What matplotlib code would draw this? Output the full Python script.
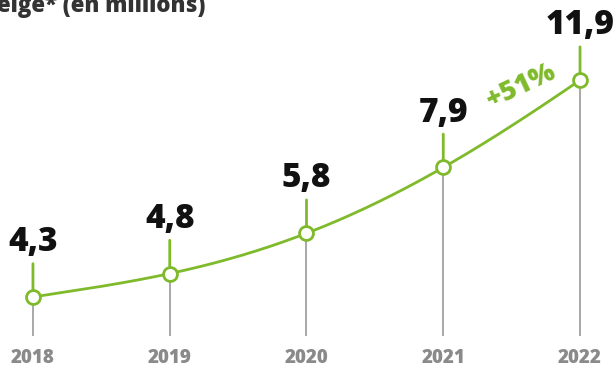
import numpy as np
import matplotlib.pyplot as plt

plt.rcParams['font.family'] = ['Open Sans', 'DejaVu Sans']

# data
years = [2018, 2019, 2020, 2021, 2022]
values = [4.3, 4.8, 5.8, 7.9, 11.9]
labels = ['4,3', '4,8', '5,8', '7,9', '11,9']
title = 'eige* (en millions)'
growth = '+51%'

green = '#7fba2b'
grey_line = '#9a9a9a'
grey_text = '#8a8a8a'

fig = plt.figure(figsize=(6.16, 3.69), dpi=100)
ax = fig.add_axes([0, 0, 1, 1])
ax.set_yscale('log')
ax.set_xlim(2017.759, 2022.263)
ax.set_ylim(3.067, 17.34)
ax.axis('off')

# grey drop lines
ax.vlines(years, 3.58, values, color=grey_line, lw=1.2, zorder=1)

# smooth curve through the points (in log space)
coef = np.polyfit(years, np.log(values), 4)
xs = np.linspace(years[0], years[-1], 200)
ax.plot(xs, np.exp(np.polyval(coef, xs)), color=green, lw=2.0, zorder=2)

# green stems and value labels
for x, v, lab in zip(years, values, labels):
    ax.annotate('', xy=(x, v), xytext=(0, 24), textcoords='offset points',
                arrowprops=dict(arrowstyle='-', color=green, lw=2.0,
                                shrinkA=0, shrinkB=0), zorder=2)
    ax.annotate(lab, xy=(x, v), xytext=(0, 33), textcoords='offset points',
                ha='center', va='baseline', fontsize=24, fontweight=800,
                color='#111111')

ax.plot(years, values, 'o', ms=10, mfc='white', mec=green, mew=2.0, zorder=4)

# year labels
for x in years:
    ax.text(x, 0.03, str(x), transform=ax.get_xaxis_transform(),
            ha='center', va='center', fontsize=13.5, fontweight=800,
            color=grey_text)

ax.text(0.846, 0.765, growth, transform=ax.transAxes, rotation=25,
        ha='center', va='center', fontsize=19.5, fontweight=800, color=green)

ax.text(-0.005, 1 - 12 / 369, title, transform=ax.transAxes, ha='left',
        va='baseline', fontsize=16, fontweight=800, color='#333333')

fig.savefig('out.png', dpi=100)
